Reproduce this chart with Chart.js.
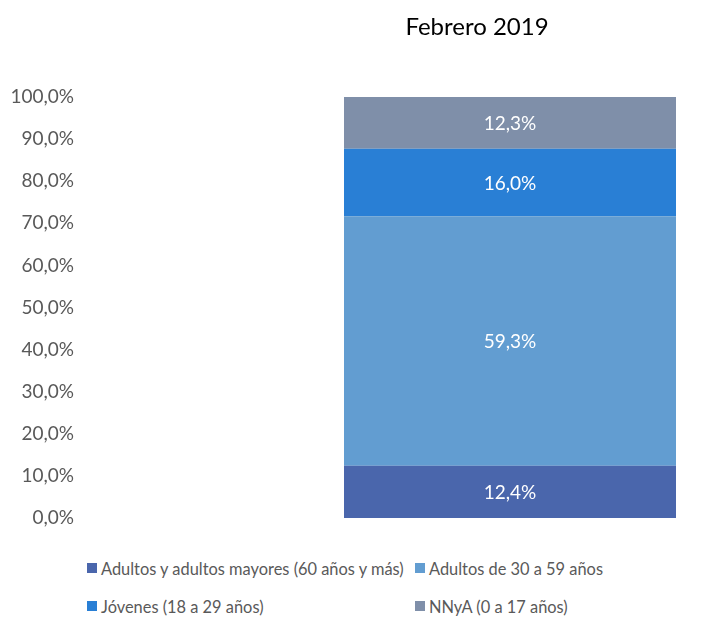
<!DOCTYPE html>
<html>
<head>
<meta charset="utf-8">
<script src="https://cdn.jsdelivr.net/npm/chart.js@4/dist/chart.umd.min.js"></script>
<style>
  body { margin: 0; background: #ffffff; }
  #wrap { position: relative; width: 707px; height: 621px; }
  #chartBox { position: absolute; left: 0; top: 0; width: 707px; height: 540px; }
  #legend {
    position: absolute; left: 87px; top: 549px;
    display: grid; grid-template-columns: 328px auto; grid-auto-rows: 38px;
    font-family: Lato, sans-serif; font-size: 16.4px; color: #595959;
  }
  .item { display: flex; align-items: center; white-space: nowrap; }
  .swatch { flex: 0 0 10px; width: 10px; height: 10px; margin-right: 4px; }
</style>
</head>
<body>
<div id="wrap">
  <div id="chartBox"><canvas id="chart"></canvas></div>
  <div id="legend"></div>
</div>
<script>
// Composición por grupo de edad, febrero 2019

const categories = ['Febrero 2019'];
const seriesNames = [
  'Adultos y adultos mayores (60 años y más)',
  'Adultos de 30 a 59 años',
  'Jóvenes (18 a 29 años)',
  'NNyA (0 a 17 años)'
];
const seriesValues = [
  [12.4],
  [59.3],
  [16.0],
  [12.3]
];
const seriesColors = ['#4A66AC', '#629DD1', '#297FD5', '#7F8FA9'];
const yTicks = [0, 10, 20, 30, 40, 50, 60, 70, 80, 90, 100];

const pct = (v) => v.toFixed(1).replace('.', ',') + '%';

// --- White labels in the middle of each segment ---

const segmentLabels = {
  id: 'segmentLabels',
  afterDatasetsDraw(chart) {
    const ctx = chart.ctx;
    ctx.save();
    ctx.font = '19px Lato';
    ctx.fillStyle = '#ffffff';
    ctx.textAlign = 'center';
    ctx.textBaseline = 'middle';
    chart.data.datasets.forEach((ds, i) => {
      chart.getDatasetMeta(i).data.forEach((bar, j) => {
        const { x, y, base } = bar.getProps(['x', 'y', 'base'], true);
        ctx.fillText(pct(ds.data[j]), x, (y + base) / 2 + 1);
      });
    });
    ctx.restore();
  }
};

const chart = new Chart(document.getElementById('chart'), {
  type: 'bar',
  data: {
    labels: categories,
    datasets: seriesNames.map((name, i) => ({
      label: name,
      data: seriesValues[i],
      backgroundColor: seriesColors[i],
      borderWidth: 0,
      barPercentage: 332 / 380,
      categoryPercentage: 1
    }))
  },
  options: {
    responsive: true,
    maintainAspectRatio: false,
    animation: false,
    layout: { padding: { left: 0, right: 7, top: 0, bottom: 22 } },
    scales: {
      x: {
        position: 'top',
        stacked: true,
        grid: { display: false, drawTicks: false },
        border: { display: false },
        ticks: {
          color: '#000000',
          font: { family: 'Lato', size: 24 },
          padding: 55,
          labelOffset: -33,
          maxRotation: 0
        },
        afterFit: (scale) => { scale.height = 97; }
      },
      y: {
        stacked: true,
        min: 0,
        max: 100,
        grid: { display: false, drawTicks: false },
        border: { display: false },
        afterBuildTicks: (scale) => { scale.ticks = yTicks.map(v => ({ value: v })); },
        // wide axis box so the bar sits right of centre; labels stay at the left
        afterFit: (scale) => {
          scale.width = 320;
          scale.paddingTop = 0;
          scale.paddingBottom = 0;
        },
        ticks: {
          color: '#595959',
          font: { family: 'Lato', size: 19 },
          padding: 246,
          callback: (v) => pct(v)
        }
      }
    },
    plugins: {
      legend: { display: false },
      tooltip: { enabled: false }
    }
  },
  plugins: [segmentLabels]
});

// --- HTML legend, two columns like the original ---

const legendEl = document.getElementById('legend');
chart.data.datasets.forEach((ds) => {
  const item = document.createElement('div');
  item.className = 'item';
  const sw = document.createElement('span');
  sw.className = 'swatch';
  sw.style.background = ds.backgroundColor;
  const txt = document.createElement('span');
  txt.textContent = ds.label;
  item.appendChild(sw);
  item.appendChild(txt);
  legendEl.appendChild(item);
});
</script>
</body>
</html>
